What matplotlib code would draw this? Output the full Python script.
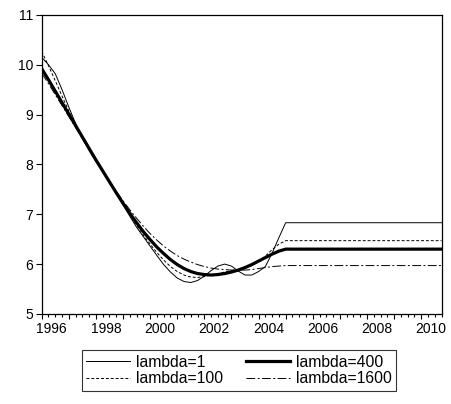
import numpy as np
import matplotlib
matplotlib.use('Agg')
from matplotlib import pyplot as plt
from matplotlib.ticker import FixedLocator, FixedFormatter
from matplotlib.transforms import ScaledTranslation

plt.rcParams["font.family"] = ["Liberation Sans", "DejaVu Sans"]

# quarterly HP-filtered series, 1996Q1 .. 2005Q1, flat afterwards up to 2010Q4
start_year = 1996
end_year = 2010

lam1 = [10.15, 10.00, 9.82, 9.50, 9.15, 8.82, 8.52, 8.28, 8.06, 7.86, 7.64, 7.42,
        7.19, 6.96, 6.74, 6.55, 6.36, 6.17, 5.99, 5.84, 5.72, 5.65, 5.63, 5.67,
        5.76, 5.87, 5.96, 6.00, 5.96, 5.86, 5.78, 5.78, 5.85, 5.95, 6.22, 6.53,
        6.83]
lam100 = [10.27, 9.98, 9.68, 9.37, 9.07, 8.80, 8.53, 8.30, 8.08, 7.86, 7.64, 7.42,
          7.20, 6.99, 6.78, 6.58, 6.40, 6.23, 6.08, 5.95, 5.85, 5.78, 5.74, 5.73,
          5.75, 5.78, 5.81, 5.84, 5.87, 5.89, 5.92, 5.97, 6.05, 6.16, 6.29, 6.40,
          6.47]
lam400 = [9.92, 9.70, 9.47, 9.24, 9.01, 8.78, 8.55, 8.32, 8.09, 7.87, 7.65, 7.43,
          7.22, 7.02, 6.83, 6.65, 6.49, 6.34, 6.21, 6.09, 5.99, 5.91, 5.85, 5.81,
          5.79, 5.78, 5.79, 5.81, 5.84, 5.88, 5.93, 5.99, 6.06, 6.13, 6.20, 6.26,
          6.30]
lam1600 = [9.83, 9.62, 9.40, 9.18, 8.96, 8.74, 8.52, 8.30, 8.08, 7.87, 7.66, 7.46,
           7.27, 7.09, 6.92, 6.76, 6.61, 6.48, 6.36, 6.26, 6.17, 6.10, 6.04, 5.99,
           5.95, 5.92, 5.90, 5.89, 5.88, 5.88, 5.88, 5.89, 5.91, 5.93, 5.95, 5.96,
           5.97]

n_q = (end_year - start_year + 1) * 4
t = start_year + np.arange(n_q) / 4.0


def extend(vals):
    v = np.full(n_q, vals[-1], dtype=float)
    v[:len(vals)] = vals
    return v


fig = plt.figure(figsize=(4.51, 4.04), dpi=100)
ax = fig.add_axes([0.0925, 0.223, 0.8865, 0.740])

ax.plot(t, extend(lam1), color='black', lw=0.7, label='lambda=1')
ax.plot(t, extend(lam100), color='black', lw=0.7, ls=(0, (3, 2)), label='lambda=100')
ax.plot(t, extend(lam400), color='black', lw=2.3, label='lambda=400')
ax.plot(t, extend(lam1600), color='black', lw=0.7, ls=(0, (9, 2.5, 2, 2.5)), label='lambda=1600')

ax.set_xlim(t[0], t[-1])
ax.set_ylim(5, 11)
ax.set_yticks(range(5, 12))

years = list(range(start_year, end_year + 1))
ax.xaxis.set_major_locator(FixedLocator(years))
ax.xaxis.set_major_formatter(FixedFormatter([str(y) if y % 2 == 0 else '' for y in years]))
ax.xaxis.set_minor_locator(FixedLocator(t))

ax.tick_params(axis='y', direction='out', length=4, width=0.8, pad=2, labelsize=10)
ax.tick_params(axis='x', which='major', direction='out', length=3.5, width=0.8, pad=2, labelsize=10)
ax.tick_params(axis='x', which='minor', direction='out', length=2, width=0.8)

# year labels sit in the middle of each year
offset = ScaledTranslation(0.10, 0, fig.dpi_scale_trans)
for lbl in ax.get_xticklabels():
    lbl.set_transform(lbl.get_transform() + offset)

for s in ax.spines.values():
    s.set_linewidth(0.9)

leg = fig.legend(loc='center', bbox_to_anchor=(0.530, 0.083), ncol=2,
                 fontsize=11.3, frameon=True, fancybox=False, edgecolor='black',
                 handlelength=2.8, handletextpad=0.35, columnspacing=1.5,
                 borderpad=0.3, labelspacing=0.12, borderaxespad=0)
leg.get_frame().set_linewidth(0.8)

fig.patch.set_facecolor('white')
fig.savefig('out.png', dpi=100, facecolor='white')
